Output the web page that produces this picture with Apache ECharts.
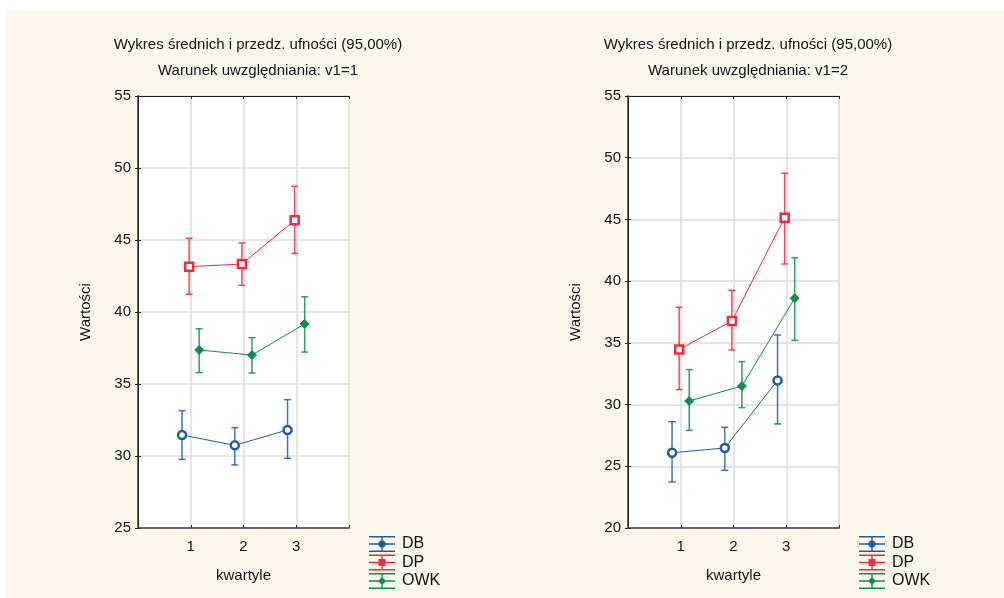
<!DOCTYPE html>
<html>
<head>
<meta charset="utf-8">
<script src="https://cdn.jsdelivr.net/npm/echarts@6/dist/echarts.min.js"></script>
<style>
  html, body { margin: 0; padding: 0; background: #fff; }
  #chart { width: 1004px; height: 598px; }
</style>
</head>
<body>
<div id="chart"></div>
<script>
// kwartyle (oś X)
const kwartyle = [1, 2, 3];
const yTicks1 = [25, 30, 35, 40, 45, 50, 55];
const yTicks2 = [20, 25, 30, 35, 40, 45, 50, 55];

// v1=1
const db1Mean = [31.46, 30.74, 31.81];
const db1Low = [29.77, 29.38, 29.84];
const db1High = [33.15, 31.97, 33.91];
const dp1Mean = [43.15, 43.33, 46.37];
const dp1Low = [41.23, 41.85, 44.07];
const dp1High = [45.12, 44.79, 48.73];
const owk1Mean = [37.36, 37.01, 39.17];
const owk1Low = [35.79, 35.76, 37.22];
const owk1High = [38.84, 38.22, 41.06];

// v1=2
const db2Mean = [26.10, 26.48, 31.96];
const db2Low = [23.73, 24.67, 28.43];
const db2High = [28.61, 28.16, 35.64];
const dp2Mean = [34.47, 36.77, 45.14];
const dp2Low = [31.21, 34.42, 41.39];
const dp2High = [37.88, 39.26, 48.74];
const owk2Mean = [30.29, 31.50, 38.61];
const owk2Low = [27.91, 29.75, 35.20];
const owk2High = [32.83, 33.48, 41.90];

const FONT = 'Liberation Sans, Arial, sans-serif';
const BLUE = '#1f5aaa', RED = '#ee2a3c', GREEN = '#0c8f4a';

// przesunięcia serii względem kwartyla
const SHIFT = { DB: -0.165, DP: -0.03, OWK: 0.16 };

function makeSeries(name, color, symbol, size, mean, low, high, gi) {
  const dx = SHIFT[name];
  const line = {
    name: name,
    type: 'line',
    xAxisIndex: gi * 2,
    yAxisIndex: gi * 2,
    data: kwartyle.map((k, i) => [k + dx, mean[i]]),
    symbol: symbol,
    symbolSize: size,
    lineStyle: { color: color, width: 1 },
    itemStyle: name === 'OWK'
      ? { color: color, borderColor: color, borderWidth: 1 }
      : { color: '#fff', borderColor: color, borderWidth: 2.5 },
    z: 5,
    animation: false
  };
  const bars = {
    name: name,
    type: 'custom',
    xAxisIndex: gi * 2,
    yAxisIndex: gi * 2,
    data: kwartyle.map((k, i) => [k + dx, low[i], high[i]]),
    renderItem: function (params, api) {
      const top = api.coord([api.value(0), api.value(2)]);
      const bot = api.coord([api.value(0), api.value(1)]);
      const w = 3.5;
      const st = { stroke: color, lineWidth: 1.5, opacity: 0.85 };
      return {
        type: 'group',
        children: [
          { type: 'line', shape: { x1: top[0], y1: top[1], x2: bot[0], y2: bot[1] }, style: st },
          { type: 'line', shape: { x1: top[0] - w, y1: top[1], x2: top[0] + w, y2: top[1] }, style: st },
          { type: 'line', shape: { x1: bot[0] - w, y1: bot[1], x2: bot[0] + w, y2: bot[1] }, style: st }
        ]
      };
    },
    z: 3,
    animation: false
  };
  return [bars, line];
}

function xAxes(gi) {
  return [
    {
      gridIndex: gi, type: 'value', min: 0, max: 4, interval: 1,
      name: 'kwartyle', nameLocation: 'middle', nameGap: 40,
      nameTextStyle: { fontFamily: FONT, fontSize: 15, color: '#111' },
      axisLine: { lineStyle: { color: '#666', width: 2 } },
      axisTick: { inside: true, length: 3, lineStyle: { color: '#333' } },
      axisLabel: {
        fontFamily: FONT, fontSize: 15, color: '#111', margin: 11,
        formatter: v => (kwartyle.indexOf(v) >= 0 ? String(v) : '')
      },
      splitLine: { show: true, lineStyle: { color: '#dcdcdc', width: 1.5 } }
    },
    {
      gridIndex: gi, type: 'value', min: 0, max: 4, interval: 1, position: 'top',
      axisLine: { lineStyle: { color: '#222', width: 1 } },
      axisTick: { inside: true, length: 3, lineStyle: { color: '#222' } },
      axisLabel: { show: false },
      splitLine: { show: false }
    }
  ];
}

function yAxes(gi, ticks) {
  const mn = ticks[0], mx = ticks[ticks.length - 1];
  return [
    {
      gridIndex: gi, type: 'value', min: mn, max: mx, interval: 5,
      name: 'Wartości', nameLocation: 'middle', nameGap: 45, nameRotate: 90,
      nameTextStyle: { fontFamily: FONT, fontSize: 15, color: '#111' },
      axisLine: { show: true, lineStyle: { color: '#666', width: 2 } },
      axisTick: { show: true, inside: true, length: 3, lineStyle: { color: '#333' } },
      axisLabel: { fontFamily: FONT, fontSize: 15, color: '#111', margin: 7 },
      splitLine: { show: true, lineStyle: { color: '#dcdcdc', width: 1.5 } }
    },
    {
      gridIndex: gi, type: 'value', min: mn, max: mx, interval: 5, position: 'right',
      axisLine: { show: true, lineStyle: { color: '#222', width: 1 } },
      axisTick: { show: true, inside: true, length: 3, lineStyle: { color: '#222' } },
      axisLabel: { show: false },
      splitLine: { show: false }
    }
  ];
}

const ICON_BAR = 'M0 0h26v1.4H0zM0 7.3h26v1.4H0zM0 14.6h26v1.4H0zM12.3 0h1.4v16h-1.4z';
const icons = {
  DB: 'path://' + ICON_BAR + 'M11.5 4.5h3l2 2v3l-2 2h-3l-2-2v-3z',
  DP: 'path://' + ICON_BAR + 'M9.5 4.5h7v7h-7z',
  OWK: 'path://' + ICON_BAR + 'M13 4l4 4-4 4-4-4z'
};
const legendColors = { DB: BLUE, DP: RED, OWK: GREEN };

function legend(left) {
  return {
    orient: 'vertical', left: left, top: 536, padding: 0,
    itemWidth: 26, itemHeight: 16, itemGap: 2.5,
    textStyle: { fontFamily: FONT, fontSize: 16, color: '#111', padding: [0, 0, 0, 2] },
    selectedMode: false,
    data: ['DB', 'DP', 'OWK'].map(n => ({
      name: n, icon: icons[n],
      itemStyle: { color: legendColors[n], borderWidth: 0, opacity: 1 }
    }))
  };
}

function titleText(x, y, text) {
  return {
    type: 'text', x: x, y: y,
    style: { text: text, fontFamily: FONT, fontSize: 15, fill: '#111', textAlign: 'center', textVerticalAlign: 'middle' }
  };
}

const chart = echarts.init(document.getElementById('chart'), null, { renderer: 'canvas' });

const series = [].concat(
  makeSeries('DB', BLUE, 'circle', 8, db1Mean, db1Low, db1High, 0),
  makeSeries('DP', RED, 'rect', 8, dp1Mean, dp1Low, dp1High, 0),
  makeSeries('OWK', GREEN, 'diamond', 9, owk1Mean, owk1Low, owk1High, 0),
  makeSeries('DB', BLUE, 'circle', 8, db2Mean, db2Low, db2High, 1),
  makeSeries('DP', RED, 'rect', 8, dp2Mean, dp2Low, dp2High, 1),
  makeSeries('OWK', GREEN, 'diamond', 9, owk2Mean, owk2Low, owk2High, 1)
);

chart.setOption({
  backgroundColor: '#fdf8ec',
  animation: false,
  grid: [
    { left: 138, top: 96, width: 211, height: 432, show: true, backgroundColor: '#fff', borderWidth: 0 },
    { left: 628, top: 96, width: 211, height: 432, show: true, backgroundColor: '#fff', borderWidth: 0 }
  ],
  xAxis: xAxes(0).concat(xAxes(1)),
  yAxis: yAxes(0, yTicks1).concat(yAxes(1, yTicks2)),
  legend: [legend(369), legend(859)],
  graphic: [
    { type: 'rect', left: 0, top: 0, shape: { width: 1004, height: 10 }, style: { fill: '#fff' } },
    { type: 'rect', left: 0, top: 0, shape: { width: 6, height: 598 }, style: { fill: '#fff' } },
    titleText(258, 45, 'Wykres średnich i przedz. ufności (95,00%)'),
    titleText(258, 71, 'Warunek uwzględniania: v1=1'),
    titleText(748, 45, 'Wykres średnich i przedz. ufności (95,00%)'),
    titleText(748, 71, 'Warunek uwzględniania: v1=2')
  ],
  series: series
});
</script>
</body>
</html>
